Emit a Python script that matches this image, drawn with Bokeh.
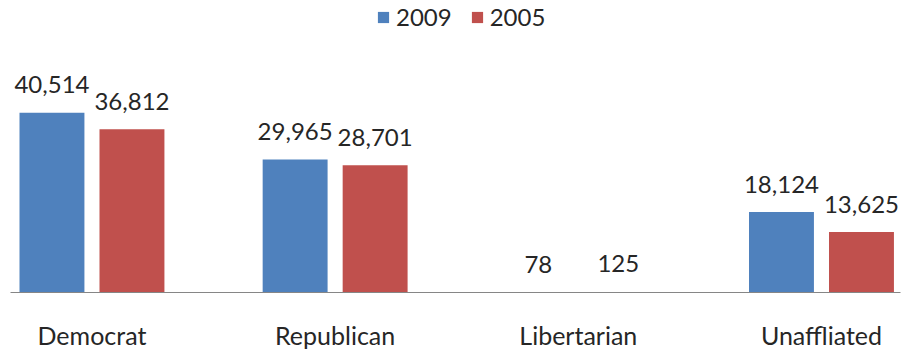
from bokeh.plotting import figure
from bokeh.models import ColumnDataSource, Range1d, FixedTicker, Legend, LegendItem
from bokeh.core.properties import value
from bokeh.embed import file_html
from bokeh.resources import INLINE

categories = ["Democrat", "Republican", "Libertarian", "Unaffliated"]
series_names = ["2009", "2005"]
values_2009 = [40514, 29965, 78, 18124]
values_2005 = [36812, 28701, 125, 13625]
colors = ["#4F81BD", "#C0504D"]

FONT = "Lato"
offset = 0.1645
bar_w = 0.267

p = figure(width=901, height=352, output_backend="svg", toolbar_location=None,
           x_range=Range1d(-0.335, 3.325), y_range=Range1d(0, 65807),
           min_border_left=10, min_border_right=1, min_border_top=0, min_border_bottom=58)
p.outline_line_color = None
p.grid.grid_line_color = None
p.yaxis.visible = False

items = []
for i, (name, vals, col) in enumerate(zip(series_names, [values_2009, values_2005], colors)):
    xs = [k + (-offset if i == 0 else offset) for k in range(len(categories))]
    src = ColumnDataSource(dict(x=xs, top=vals, label=["{:,}".format(v) for v in vals]))
    r = p.vbar(x="x", top="top", width=bar_w, source=src, fill_color=col, line_color=None)
    p.text(x="x", y="top", text="label", source=src, text_align="center",
           text_baseline="alphabetic", y_offset=-28, text_font=value(FONT),
           text_font_size="24px", text_color="#262626")
    items.append(LegendItem(label=name, renderers=[r]))

legend = Legend(items=items, orientation="horizontal", location=(366, 261),
                label_text_font=FONT, label_text_font_size="24px", label_text_color="#262626",
                glyph_width=14, glyph_height=14, spacing=18, padding=4, margin=0,
                border_line_color=None, background_fill_alpha=0, label_standoff=6)
p.add_layout(legend)

ax = p.xaxis[0]
ax.ticker = FixedTicker(ticks=list(range(len(categories))))
ax.major_label_overrides = {i: c for i, c in enumerate(categories)}
ax.major_tick_line_color = None
ax.minor_tick_line_color = None
ax.major_tick_out = 0
ax.major_tick_in = 0
ax.minor_tick_out = 0
ax.minor_tick_in = 0
ax.axis_line_color = "#868686"
ax.major_label_text_font = FONT
ax.major_label_text_font_size = "25px"
ax.major_label_text_line_height = 1.0
ax.major_label_text_color = "#262626"
ax.major_label_standoff = 27

open("out.html", "w").write(file_html(p, INLINE))
